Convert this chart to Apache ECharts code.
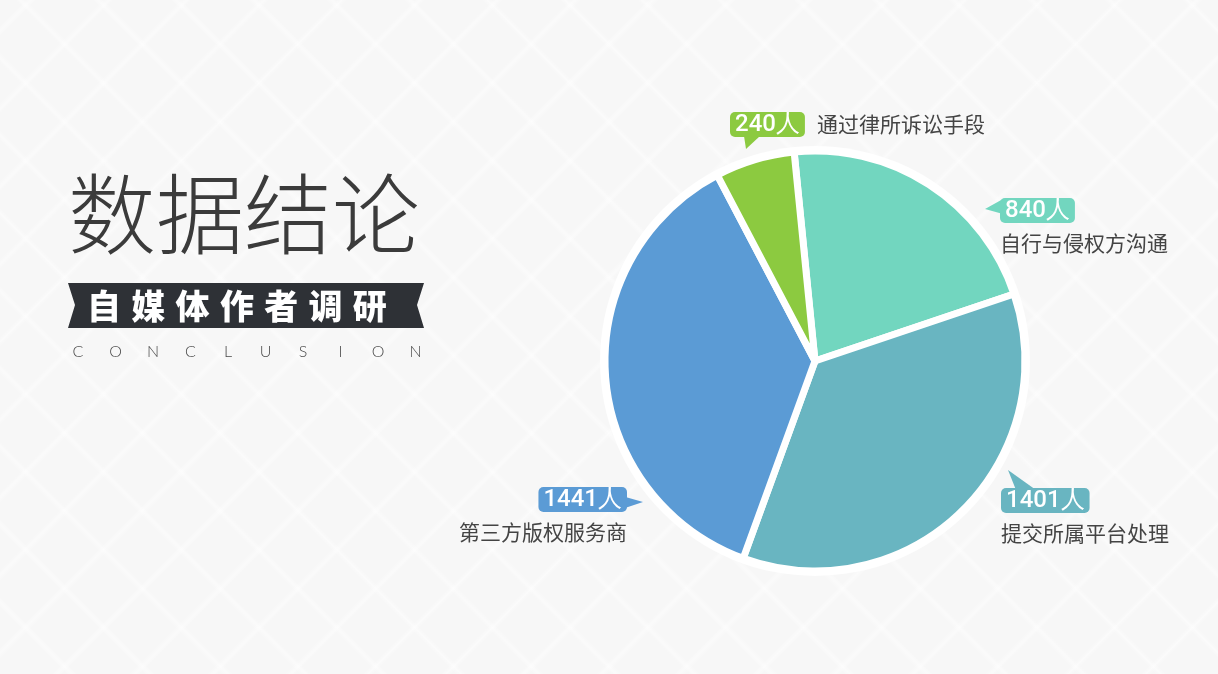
<!DOCTYPE html>
<html>
<head>
<meta charset="utf-8">
<script src="https://cdn.jsdelivr.net/npm/echarts@6/dist/echarts.min.js"></script>
<style>
html, body { margin: 0; padding: 0; }
body {
  background-color: #f7f7f7;
  background-image:
    repeating-linear-gradient(45deg, rgba(255,255,255,0) 0px, rgba(255,255,255,0) 47px, rgba(255,255,255,.45) 51px, rgba(255,255,255,0) 55px),
    repeating-linear-gradient(-45deg, rgba(255,255,255,0) 0px, rgba(255,255,255,0) 47px, rgba(255,255,255,.45) 51px, rgba(255,255,255,0) 55px);
}
#app { width: 1218px; height: 674px; }
</style>
</head>
<body>
<div id="app"></div>
<script>
const app = document.getElementById('app')
const chart = echarts.init(app)

// data
const names = ['自行与侵权方沟通', '提交所属平台处理', '第三方版权服务商', '通过律所诉讼手段']
const values = [840, 1401, 1441, 240]
const colors = ['#72d6bf', '#69b5c1', '#5b9bd5', '#8cca40']

// title texts
const title = '数据结论'
const subtitle = '自媒体作者调研'
const english = 'CONCLUSION'

// label anchors (top-left / top-right of each label block)
const labelPos = [
  { x: 1000, y: 198, align: 'left' },
  { x: 1001, y: 488, align: 'left' },
  { x: 627, y: 487, align: 'right' },
  { x: 730, y: 112, align: 'left' }
]

// bubble tails
const tails = [
  [[1003, 199], [1003, 214], [985, 209]],
  [[1008, 470], [1016, 490], [1036, 490]],
  [[622, 496], [622, 509], [643, 502]],
  [[744, 136], [760, 136], [746, 149]]
]

const cjk = '"Noto Sans CJK SC", sans-serif'

const graphics = []
graphics.push({
  type: 'text',
  left: 68, top: 170,
  style: { text: title, fill: '#3b3b3b', font: '300 88px ' + cjk }
})
graphics.push({
  type: 'polygon',
  shape: { points: [[68, 283], [424, 283], [417, 305], [424, 328], [68, 328], [75, 305]] },
  style: { fill: '#2e3136' }
})
subtitle.split('').forEach((ch, i) => {
  graphics.push({
    type: 'text',
    x: 87 + i * 44.3, y: 306,
    style: { text: ch, fill: '#fff', font: '900 34px ' + cjk, verticalAlign: 'middle' }
  })
})
english.split('').forEach((ch, i) => {
  graphics.push({
    type: 'text',
    x: 78 + i * 37.5, y: 352,
    style: { text: ch, fill: '#4a4a4a', font: '300 16px Lato, sans-serif', align: 'center', verticalAlign: 'middle' }
  })
})
tails.forEach((pts, i) => {
  graphics.push({
    type: 'polygon',
    shape: { points: pts },
    style: { fill: colors[i] }
  })
})

const pieData = names.map((n, i) => {
  const single = i === 3
  return {
    name: n,
    value: values[i],
    itemStyle: { color: colors[i] },
    label: {
      formatter: single ? '{v|{c}人}{g|}{n|{b}}' : '{v|{c}人}\n{n|{b}}',
      rich: {
        v: {
          color: '#fff',
          fontSize: 24,
          fontWeight: 500,
          fontFamily: 'Roboto, sans-serif',
          backgroundColor: colors[i],
          borderRadius: 5,
          height: 25,
          padding: [0, 5]
        },
        g: { width: 12 },
        n: {
          color: '#444',
          fontSize: 21,
          fontFamily: cjk,
          lineHeight: single ? 25 : 40
        }
      }
    }
  }
})

chart.setOption({
  animation: false,
  graphic: graphics,
  series: [
    {
      type: 'pie',
      silent: true,
      radius: 215,
      center: [815, 361],
      label: { show: false },
      data: [{ value: 1, itemStyle: { color: 'rgba(255,255,255,0.9)' } }],
      z: 1
    },
    {
      type: 'pie',
      radius: 210,
      center: [815, 361],
      startAngle: 95.7,
      z: 2,
      emphasis: { disabled: true },
      itemStyle: { borderColor: '#fff', borderWidth: 7 },
      labelLine: { show: false },
      label: { show: true, position: 'outside' },
      labelLayout: p => ({
        x: labelPos[p.dataIndex].x,
        y: labelPos[p.dataIndex].y,
        align: labelPos[p.dataIndex].align,
        verticalAlign: 'top'
      }),
      data: pieData
    }
  ]
})
</script>
</body>
</html>
